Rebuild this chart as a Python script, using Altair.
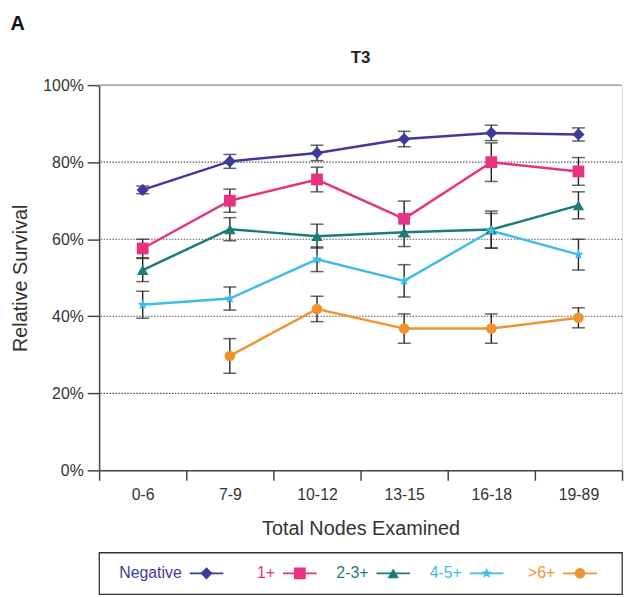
import altair as alt
import pandas as pd

categories = ["0-6", "7-9", "10-12", "13-15", "16-18", "19-89"]
series = ["Negative", "1+", "2-3+", "4-5+", ">6+"]
colors = ["#3d3a9c", "#e6327f", "#1c7b78", "#3dbde9", "#f2922e"]
shapes = [
    "diamond",
    "square",
    "triangle-up",
    "M0,-1L0.26,-0.33L0.95,-0.31L0.41,0.13L0.59,0.81L0,0.42L-0.59,0.81L-0.41,0.13L-0.95,-0.31L-0.26,-0.33Z",
    "circle",
]
marker_sizes = [150, 115, 135, 270, 130]
legend_marker_sizes = [80, 60, 75, 150, 70]

neg_vals = [72.8, 80.2, 82.4, 86.0, 87.6, 87.2]
neg_err = [1.0, 1.8, 2.0, 2.0, 2.0, 1.7]
p1_vals = [57.6, 70.0, 75.5, 65.3, 80.0, 77.6]
p1_err = [2.4, 3.0, 3.2, 4.6, 5.0, 3.6]
p23_vals = [52.0, 62.6, 60.8, 61.8, 62.5, 68.8]
p23_err = [3.0, 3.0, 3.1, 3.7, 4.8, 3.5]
p45_vals = [43.0, 44.6, 54.8, 49.2, 62.2, 56.0]
p45_err = [3.5, 3.0, 3.2, 4.2, 4.5, 4.0]
p6_vals = [None, 29.7, 41.9, 36.8, 36.8, 39.6]
p6_err = [None, 4.5, 3.3, 3.8, 3.8, 2.6]

y_ticks = [0, 20, 40, 60, 80, 100]
dotted_grid = [20, 40, 60, 80]
solid_grid = [100]

all_vals = [neg_vals, p1_vals, p23_vals, p45_vals, p6_vals]
all_errs = [neg_err, p1_err, p23_err, p45_err, p6_err]

rows = []
for s, vals, errs in zip(series, all_vals, all_errs):
    for c, v, e in zip(categories, vals, errs):
        if v is None:
            continue
        rows.append({"cat": c, "series": s, "value": v, "lo": v - e, "hi": v + e})
df = pd.DataFrame(rows)

FONT = "Liberation Sans"
TXT = "#333333"

x_enc = alt.X(
    "cat:N",
    sort=categories,
    scale=alt.Scale(domain=categories, paddingInner=0, paddingOuter=0),
    axis=alt.Axis(
        title="Total Nodes Examined",
        labelAngle=0,
        tickBand="extent",
        tickSize=10,
        labelPadding=6,
        labelFontSize=16,
        titleFontSize=20,
        titleFontWeight="normal",
        titlePadding=17,
        domainColor="#444",
        tickColor="#444",
        domainWidth=1.5,
        tickWidth=1.5,
        labelColor=TXT,
        titleColor=TXT,
        labelFont=FONT,
        titleFont=FONT,
    ),
)
y_scale = alt.Scale(domain=[0, 100], nice=False)
y_axis = alt.Axis(
    title="Relative Survival",
    values=y_ticks,
    labelExpr="datum.value + '%'",
    tickSize=12,
    labelPadding=4,
    labelFontSize=16,
    titleFontSize=20,
    titleFontWeight="normal",
    titlePadding=12,
    domainColor="#444",
    tickColor="#444",
    domainWidth=1.5,
    tickWidth=1.5,
    grid=False,
    labelColor=TXT,
    titleColor=TXT,
    labelFont=FONT,
    titleFont=FONT,
)
color_scale = alt.Scale(domain=series, range=colors)
shape_scale = alt.Scale(domain=series, range=shapes)
size_scale = alt.Scale(domain=series, range=marker_sizes)
leg_size_scale = alt.Scale(domain=series, range=legend_marker_sizes)

base = alt.Chart(df)

grid_dot = alt.Chart(pd.DataFrame({"g": dotted_grid})).mark_rule(
    color="#555", strokeWidth=1.2, strokeDash=[1.5, 1.5]
).encode(y=alt.Y("g:Q", scale=y_scale, axis=y_axis))
grid_solid = alt.Chart(pd.DataFrame({"g": solid_grid})).mark_rule(
    color="#aaaaaa", strokeWidth=2
).encode(y=alt.Y("g:Q", scale=y_scale))

err = base.mark_rule(color="#222", strokeWidth=1.4).encode(
    x=x_enc, y=alt.Y("lo:Q", scale=y_scale), y2="hi:Q"
)
cap_lo = base.mark_tick(orient="horizontal", size=13, thickness=1.5, color="#222").encode(
    x=x_enc, y=alt.Y("lo:Q", scale=y_scale)
)
cap_hi = base.mark_tick(orient="horizontal", size=13, thickness=1.5, color="#222").encode(
    x=x_enc, y=alt.Y("hi:Q", scale=y_scale)
)
lines = base.mark_line(strokeWidth=2.5).encode(
    x=x_enc,
    y=alt.Y("value:Q", scale=y_scale),
    color=alt.Color("series:N", scale=color_scale, legend=None),
    detail="series:N",
)
points = base.mark_point(filled=True, opacity=1).encode(
    x=x_enc,
    y=alt.Y("value:Q", scale=y_scale),
    color=alt.Color("series:N", scale=color_scale, legend=None),
    shape=alt.Shape("series:N", scale=shape_scale, legend=None),
    size=alt.Size("series:N", scale=size_scale, legend=None),
)

main = alt.layer(grid_dot, grid_solid, err, cap_lo, cap_hi, lines, points).properties(
    width=528,
    height=389,
    title=alt.TitleParams("T3", fontSize=17, fontWeight="bold", font=FONT, color="#222", offset=10),
)

leg_df = pd.DataFrame({"series": series})
leg_x = alt.X("series:N", sort=series, scale=alt.Scale(type="point", domain=series, padding=0.8), axis=None)
leg_text = alt.Chart(leg_df).mark_text(align="right", dx=8, fontSize=16, font=FONT).encode(
    x=leg_x, color=alt.Color("series:N", scale=color_scale, legend=None), text="series:N"
)
leg_line = alt.Chart(leg_df).mark_point(
    shape="M-1,0L1,0", size=1156, filled=False, strokeWidth=2, xOffset=33, opacity=1
).encode(x=leg_x, color=alt.Color("series:N", scale=color_scale, legend=None))
leg_mark = alt.Chart(leg_df).mark_point(filled=True, xOffset=33, opacity=1).encode(
    x=leg_x,
    color=alt.Color("series:N", scale=color_scale, legend=None),
    shape=alt.Shape("series:N", scale=shape_scale, legend=None),
    size=alt.Size("series:N", scale=leg_size_scale, legend=None),
)
legend = alt.layer(leg_text, leg_line, leg_mark).properties(
    width=528, height=42, view=alt.ViewBackground(stroke="#333", strokeWidth=1.3)
)

chart = alt.vconcat(main, legend, spacing=83, bounds="flush").properties(
    title=alt.TitleParams("A", anchor="start", frame="bounds", fontSize=20, fontWeight="bold",
                          font=FONT, color="#111", offset=15),
    padding={"left": 2, "top": 3, "right": 0, "bottom": 0},
).configure_view(strokeWidth=0).configure(background="white")

chart.save("out.html", embed_options={"renderer": "svg", "actions": False})
